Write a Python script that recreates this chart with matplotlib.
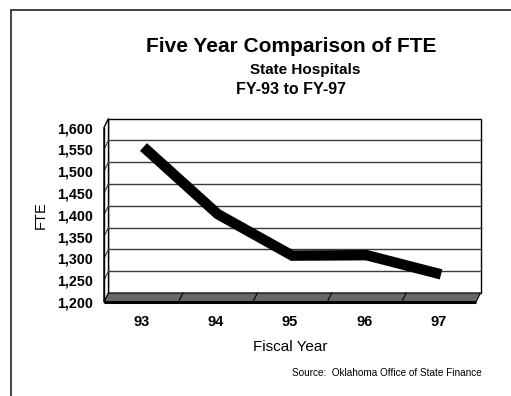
import matplotlib
matplotlib.use("Agg")
import matplotlib.pyplot as plt
from matplotlib.patches import Polygon, Rectangle
import numpy as np

plt.rcParams['font.family'] = ['Liberation Sans', 'DejaVu Sans']

# FTE counts by fiscal year
years = ['93', '94', '95', '96', '97']
fte = [1545, 1391, 1296, 1297, 1253]
yticks = [1200, 1250, 1300, 1350, 1400, 1450, 1500, 1550, 1600]

W, H = 511, 396
fig = plt.figure(figsize=(W / 100, H / 100), dpi=100)

# front plane of the box, in pixels
left, right, top, bottom = 104, 476, 127.5, 302
ax = fig.add_axes([left / W, (H - bottom) / H, (right - left) / W, (bottom - top) / H])
ax.set_xlim(-0.5, 4.5)
ax.set_ylim(1200, 1600)
for s in ax.spines.values():
    s.set_visible(False)

# depth of the 3d box in data units (about 4.5 px right, 9 px up)
DX = 4.5 / ((right - left) / 5)
DY = 9 / ((bottom - top) / 400)

x0, x1 = -0.5, 4.5
# back wall
ax.add_patch(Polygon([(x0 + DX, 1200 + DY), (x1 + DX, 1200 + DY), (x1 + DX, 1600 + DY), (x0 + DX, 1600 + DY)],
                     closed=True, fc='white', ec='black', lw=1.0, clip_on=False, zorder=1))
# left side wall
ax.add_patch(Polygon([(x0, 1200), (x0 + DX, 1200 + DY), (x0 + DX, 1600 + DY), (x0, 1600)],
                     closed=True, fc='white', ec='black', lw=1.0, clip_on=False, zorder=1))
# gridlines on back and side walls
for v in yticks[1:-1]:
    ax.plot([x0 + DX, x1 + DX], [v + DY, v + DY], color='#3a3a3a', lw=1.0, clip_on=False, zorder=2)
    ax.plot([x0, x0 + DX], [v, v + DY], color='#3a3a3a', lw=0.8, clip_on=False, zorder=2)

# floor
ax.add_patch(Polygon([(x0, 1200), (x1, 1200), (x1 + DX, 1200 + DY), (x0 + DX, 1200 + DY)],
                     closed=True, fc='#666666', ec='black', lw=0.8, clip_on=False, zorder=3))
for i in range(1, len(years)):
    ax.plot([i - 0.5, i - 0.5 + DX], [1200, 1200 + DY], color='black', lw=0.8, clip_on=False, zorder=4)
ax.plot([x0, x1], [1200, 1200], color='black', lw=2.2, clip_on=False, zorder=4, solid_capstyle='butt')
ax.plot([x0, x0], [1200, 1600], color='black', lw=1.0, clip_on=False, zorder=4)

# data line, drawn halfway into the box
xs = np.arange(len(years)) + DX / 2
ys = np.array(fte) + DY / 2
ax.plot(xs, ys, color='black', lw=7.5, solid_capstyle='butt', solid_joinstyle='miter', clip_on=False, zorder=5)

ax.set_xticks(range(len(years)))
ax.set_xticklabels(years, fontsize=10.5, fontweight='bold')
ax.set_yticks(yticks)
ax.set_yticklabels([f'{v:,}' for v in yticks], fontsize=10.3, fontweight='bold')
ax.tick_params(axis='both', length=0)
ax.tick_params(axis='y', pad=8)
ax.tick_params(axis='x', pad=9)

ax.set_ylabel('FTE', fontsize=10.5, labelpad=7)
ax.set_xlabel('Fiscal Year', fontsize=11, labelpad=8)

fig.text(291 / W, 1 - 47 / H, 'Five Year Comparison of FTE', ha='center', va='center',
         fontsize=15, fontweight='bold')
fig.text(305 / W, 1 - 70 / H, 'State Hospitals', ha='center', va='center', fontsize=11, fontweight='bold')
fig.text(291 / W, 1 - 90 / H, 'FY-93 to FY-97', ha='center', va='center', fontsize=11.5, fontweight='bold')
fig.text(482 / W, 1 - 373 / H, 'Source:  Oklahoma Office of State Finance', ha='right', va='center', fontsize=7.2)

# outer border
fig.add_artist(Rectangle((11 / W, -0.1), 2, 1 - 10 / H + 0.1, transform=fig.transFigure,
                         fill=False, ec='#333333', lw=1.3))

fig.savefig('out.png', dpi=100)
